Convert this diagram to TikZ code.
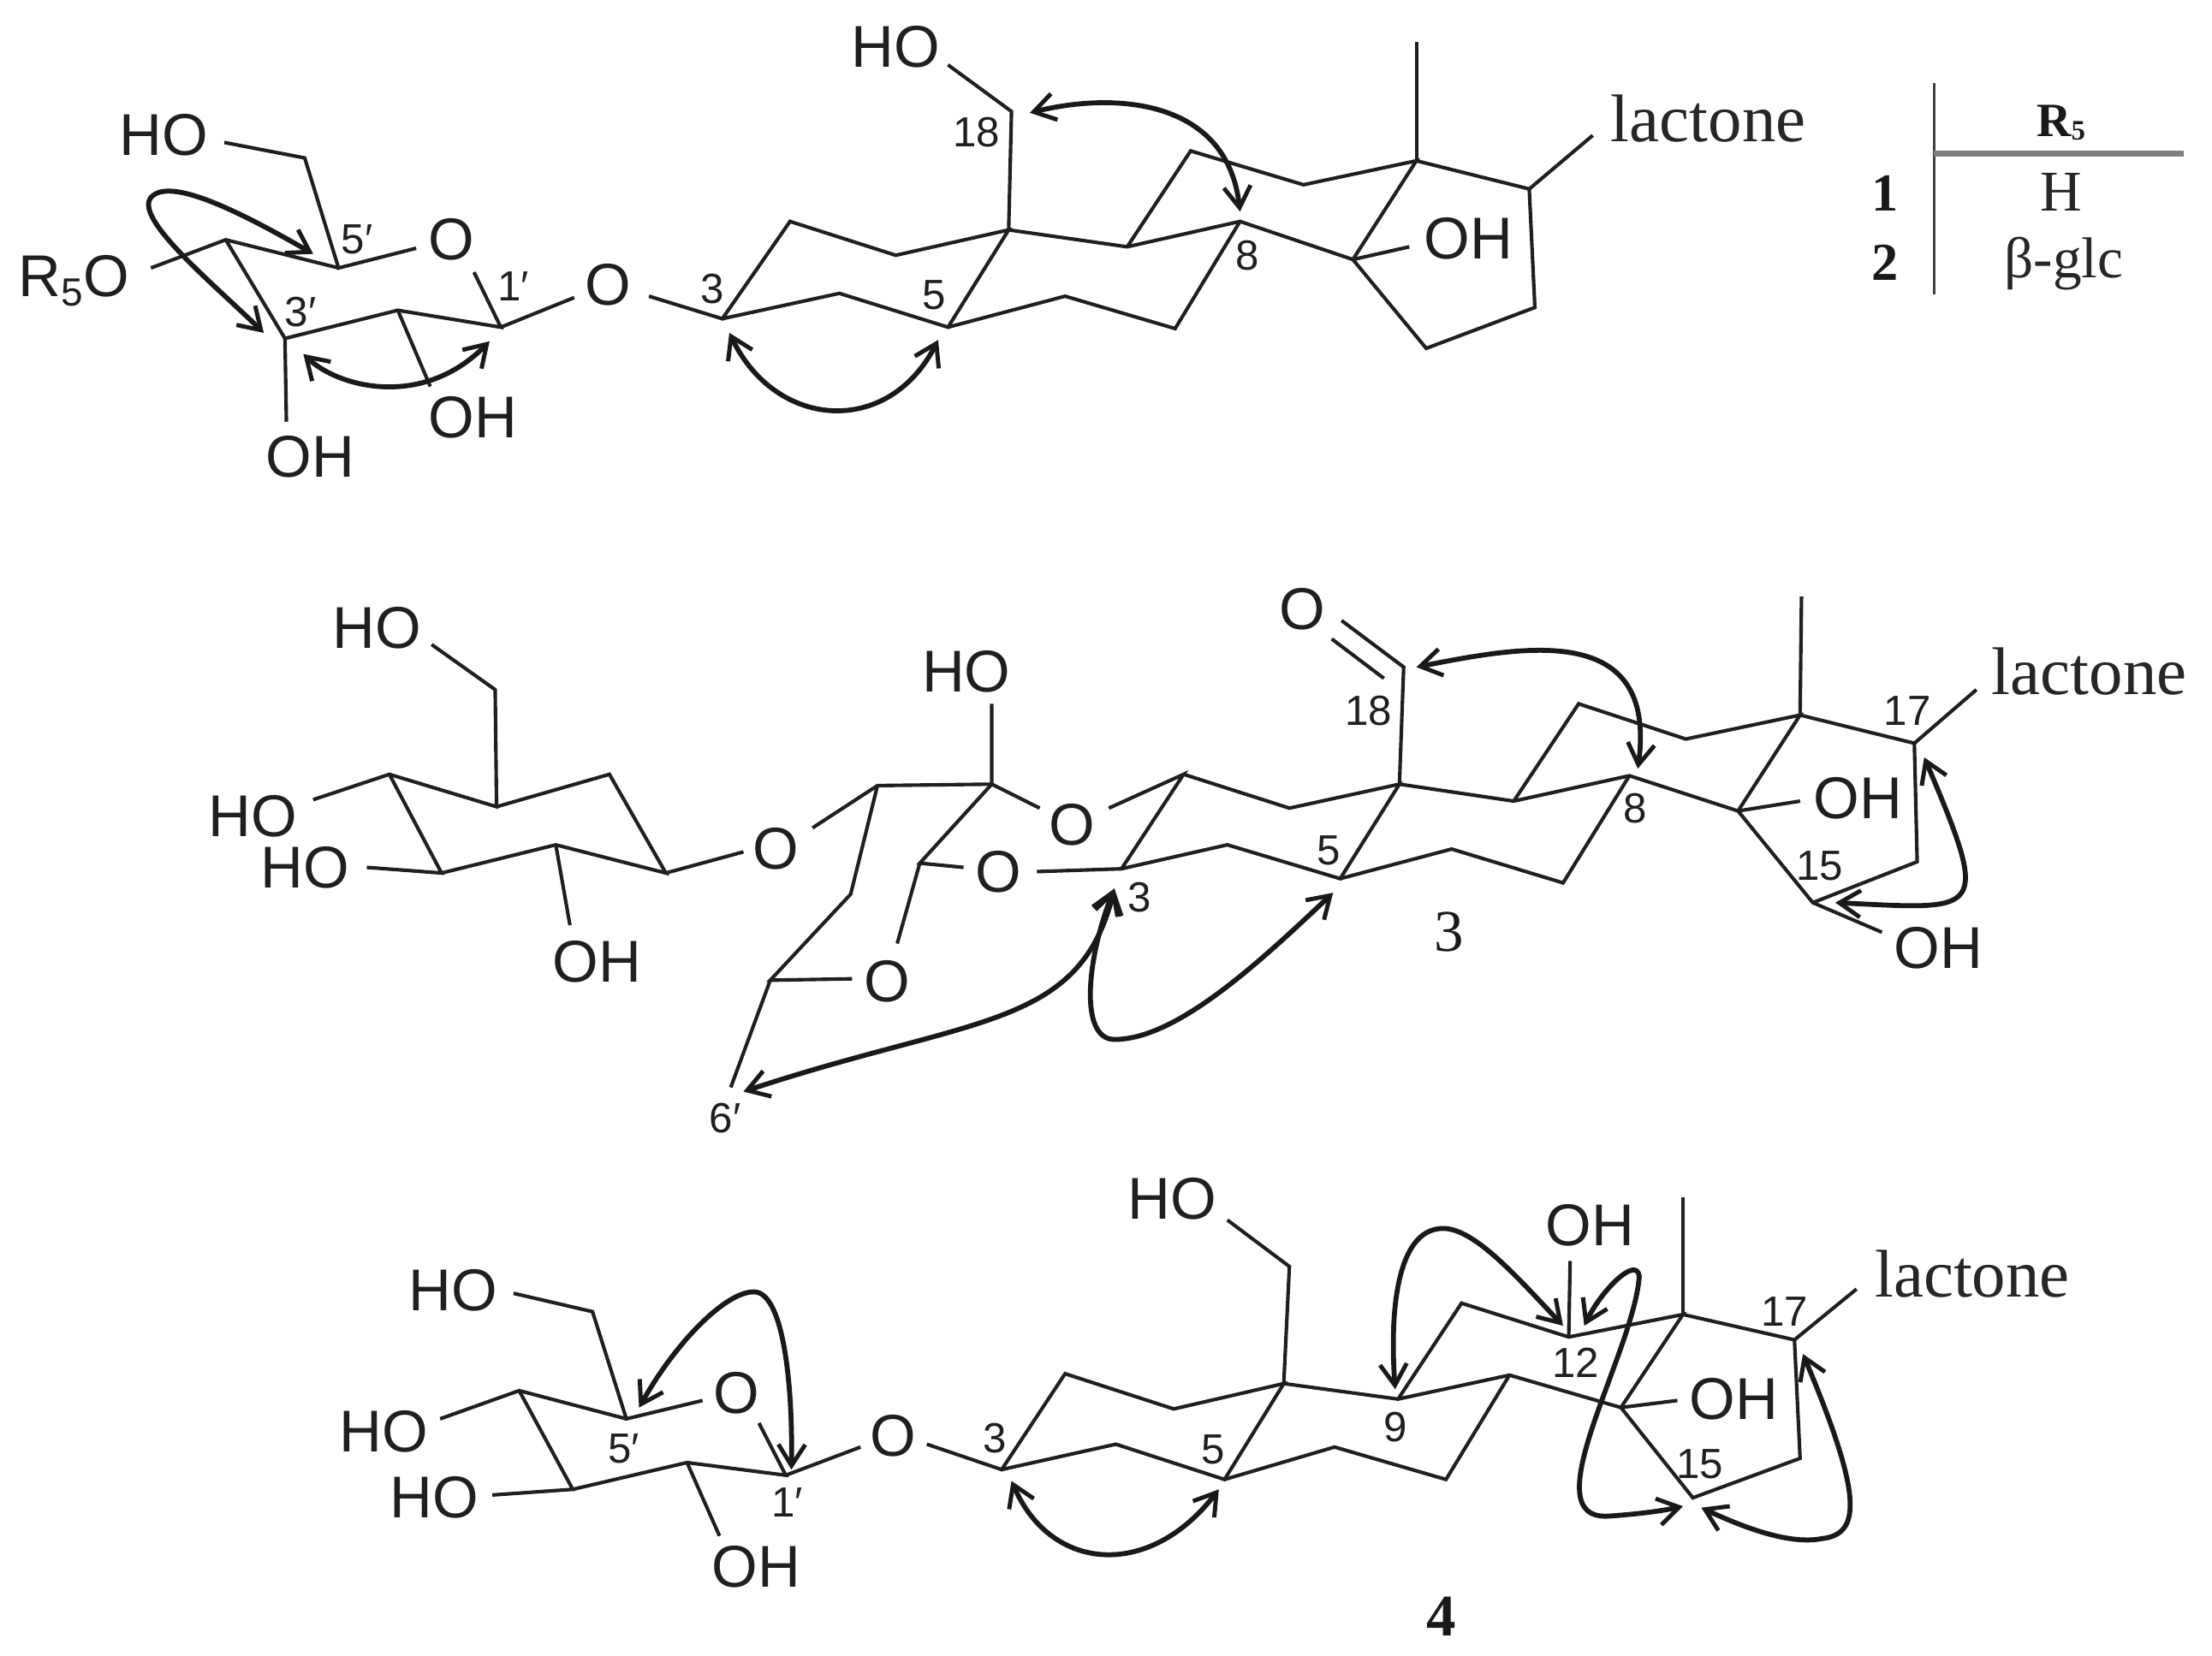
\documentclass[tikz,border=0pt]{standalone}
\usepackage{fontspec}
\setmainfont{Liberation Serif}
\newfontfamily\lsans{Liberation Sans}
\usetikzlibrary{arrows.meta}
\tikzset{
  bond/.style={draw=black!88,line width=2.5bp,line join=miter},
  thinrule/.style={draw=black!75,line width=1.8bp},
  grayrule/.style={draw=black!50,line width=4bp},
  hmbc/.style={draw=black!90,line width=3.5bp,{Straight Barb[length=15bp,width=19bp,line width=3bp]}-{Straight Barb[length=15bp,width=19bp,line width=3bp]}},
  atomlab/.style={inner sep=0pt,text=black!88,font=\lsans\fontsize{42}{44}\selectfont},
  numlab/.style={inner sep=0pt,text=black!88,font=\lsans\fontsize{30}{32}\selectfont},
  lact/.style={inner sep=0pt,text=black!85,font=\fontsize{48}{50}\selectfont},
  tabcell/.style={inner sep=0pt,text=black!85,font=\fontsize{41}{43}\selectfont},
  tabnum/.style={inner sep=0pt,text=black!90,font=\bfseries\fontsize{38}{40}\selectfont},
  cmpd/.style={inner sep=0pt,text=black!90,font=\fontsize{42}{44}\selectfont},
  cmpdb/.style={inner sep=0pt,text=black!90,font=\bfseries\fontsize{42}{44}\selectfont}
}
\begin{document}
\begin{tikzpicture}[x=1bp,y=-1bp]
\fill[white] (0,0) rectangle (1568,1173.6);
\useasboundingbox (0,0) rectangle (1568,1173.6);
% ---------- structure 1 / 2 ----------
\foreach \n/\x/\y in {
 aHOe/159/101,aCH/216/112,a5p/240/190,aOe/295/176,a4p/160/170,aRe/107/190,a3p/202/240,a2p/282/220,a1p/355/232,
 aOr/336/193,aOge/407/211,aOgs/460/210,a3/512/226,aOHb/305/274,aOHc/203/299,a2/560/157,a1/635/181,a10/715/163,
 a4/595/208,a5/672/232,a6/755/210,a7/833/233,a9/799/175,a11/844/107,a12/924/131,a13/1004/114,a8/879/157,a14/959/184,
 aMe/1004/30,a17/1084/134,aLac/1129/96,a16/1088/218,a15/1011/247,aOHd/999/175,a18/717/79,aHOt/672/46,
 aT1/1371/59,aT2/1371/209,aT3/1371/109,aT4/1548/109}
 \coordinate (\n) at (\x,\y);
\draw[bond] (aHOe)--(aCH)--(a5p)--(aOe);
\draw[bond] (aRe)--(a4p)--(a5p);
\draw[bond] (a4p)--(a3p)--(a2p)--(a1p)--(aOr);
\draw[bond] (a1p)--(aOge);
\draw[bond] (aOgs)--(a3)--(a2)--(a1)--(a10)--(a5)--(a4)--(a3);
\draw[bond] (a2p)--(aOHb);
\draw[bond] (a3p)--(aOHc);
\draw[bond] (a5)--(a6)--(a7)--(a8);
\draw[bond] (a10)--(a9)--(a8)--(a14)--(a13)--(a12)--(a11)--(a9);
\draw[bond] (a13)--(aMe);
\draw[bond] (a13)--(a17)--(aLac);
\draw[bond] (a17)--(a16)--(a15)--(a14)--(aOHd);
\draw[bond] (a10)--(a18)--(aHOt);
\node[atomlab] (tHO1) at (116,96) {HO};
\node[atomlab] (tO1) at (320,170) {O};
\node[atomlab,anchor=west] (tR) at (13,199) {R\raisebox{-7bp}{\fontsize{28}{30}\selectfont 5}O};
\node[atomlab] (tO2) at (431,202) {O};
\node[atomlab] (tOH1) at (335,296) {OH};
\node[atomlab] (tOH2) at (220,324) {OH};
\node[atomlab] (tHO2) at (635,33) {HO};
\node[atomlab] (tOH3) at (1041,169) {OH};
\node[lact] (tL1) at (1211,84) {lactone};
\node[numlab] (n18a) at (692,94) {18};
\node[numlab] (n3a) at (505,205) {3};
\node[numlab] (n5a) at (662,209) {5};
\node[numlab] (n3pa) at (213,221) {3′};
\node[numlab] (n5pa) at (253,170) {5′};
\node[numlab] (n1pa) at (364,203) {1′};
\node[numlab] (n8a) at (884,181) {8};
\draw[thinrule] (aT1)--(aT2);
\draw[grayrule] (aT3)--(aT4);
\node[inner sep=0pt,text=black!90,font=\bfseries\fontsize{34}{36}\selectfont] (tRt) at (1461,87) {R\raisebox{-2bp}{\fontsize{20}{22}\selectfont 5}};
\node[tabnum] (t1) at (1336,137) {1};
\node[tabcell] (tH) at (1461,136) {H};
\node[tabnum] (t2) at (1336,186) {2};
\node[tabcell] (tG) at (1463,187) {β-glc};
\foreach \n/\x/\y in {ah1/222/180,ah2/187/236,ah3/215/251,ah4/347/242,ah5/730/80,ah6/879/150,ah7/517/236,ah8/665/241}
 \coordinate (\n) at (\x,\y);
\draw[hmbc] (ah1) .. controls (170,150) and (120,125) .. (107,140) .. controls (95,155) and (150,200) .. (ah2);
\draw[hmbc] (ah3) .. controls (240,275) and (300,290) .. (ah4);
\draw[hmbc] (ah5) .. controls (790,65) and (870,70) .. (ah6);
\draw[hmbc] (ah7) .. controls (550,305) and (630,310) .. (ah8);
% ---------- structure 3 ----------
\foreach \n/\x/\y in {
 bHOe/306/457,bCH/351/489,bC5/352/572,bC4/276/549,bHO2e/222/567,bC3/313/619,bHO3e/260/615,bC2/394/599,bOHe/404/656,
 bC1/432/549,bC0/472/619,bOa/527/604,bOb/576/587,bD1/622/557,bD2/703/556,bD3/603/634,bD4/546/695,bOc/604/694,b6p/518/771,
 bHO4e/703/499,bD5/652/612,bOd/683/615,bOe/636/669,bOf/737/573,bOg/786/573,bA2/839/549,b3/795/616,bOh/735/618,
 bA4/870/599,b5/950/623,bA1/914/573,b10/992/556,b9/1073/568,b11/1119/499,b12/1195/524,b13/1276/507,b8/1155/550,b14/1232/575,
 b7/1108/626,b6/1029/602,bMe/1277/423,b17/1357/527,bLac/1401/489,b16/1359/611,b15/1285/640,bOHf/1334/661,bOHg/1276/568,
 bCO/995/473,bOu/951/440,bOv/944/453,bCOb/981/481}
 \coordinate (\n) at (\x,\y);
\draw[bond] (bHOe)--(bCH)--(bC5)--(bC4)--(bHO2e);
\draw[bond] (bC4)--(bC3)--(bHO3e);
\draw[bond] (bC3)--(bC2)--(bC0)--(bC1)--(bC5);
\draw[bond] (bC2)--(bOHe);
\draw[bond] (bC0)--(bOa);
\draw[bond] (bOb)--(bD1)--(bD2)--(bHO4e);
\draw[bond] (bD1)--(bD3)--(bD4)--(bOc);
\draw[bond] (bD4)--(b6p);
\draw[bond] (bD2)--(bD5)--(bOd);
\draw[bond] (bD5)--(bOe);
\draw[bond] (bD2)--(bOf);
\draw[bond] (bOg)--(bA2)--(b3)--(bOh);
\draw[bond] (b3)--(bA4)--(b5)--(b10)--(bA1)--(bA2);
\draw[bond] (b10)--(b9)--(b8)--(b14)--(b13)--(b12)--(b11)--(b9);
\draw[bond] (b8)--(b7)--(b6)--(b5);
\draw[bond] (b13)--(bMe);
\draw[bond] (b13)--(b17)--(bLac);
\draw[bond] (b17)--(b16)--(b15)--(b14)--(bOHg);
\draw[bond] (b15)--(bOHf);
\draw[bond] (bOu)--(bCO)--(b10);
\draw[bond] (bOv)--(bCOb);
\node[atomlab] (sHO1) at (267,445) {HO};
\node[atomlab] (sHO2) at (179,579) {HO};
\node[atomlab] (sHO3) at (216,615) {HO};
\node[atomlab] (sOH1) at (423,682) {OH};
\node[atomlab] (sO1) at (550,602) {O};
\node[atomlab] (sO2) at (629,696) {O};
\node[atomlab] (sHO4) at (685,476) {HO};
\node[atomlab] (sO3) at (708,618) {O};
\node[atomlab] (sO4) at (760,585) {O};
\node[atomlab] (sO5) at (923,432) {O};
\node[atomlab] (sOH2) at (1317,566) {OH};
\node[atomlab] (sOH3) at (1374,672) {OH};
\node[lact] (sL) at (1481,476) {lactone};
\node[numlab] (n18b) at (970,504) {18};
\node[numlab] (n5b) at (942,603) {5};
\node[numlab] (n8b) at (1159,573) {8};
\node[numlab] (n15b) at (1290,614) {15};
\node[numlab] (n17b) at (1352,504) {17};
\node[numlab] (n3b) at (808,636) {3};
\node[numlab] (n6b) at (514,793) {6′};
\node[cmpd] (c3) at (1027,661) {3};
\foreach \n/\x/\y in {bh1/1004/473,bh2/1161/545,bh3/1364/537,bh4/1301/640,bh5/945/633,bh6/790/630,bh7/527/774}
 \coordinate (\n) at (\x,\y);
\draw[hmbc] (bh1) .. controls (1080,458) and (1175,440) .. (bh2);
\draw[hmbc] (bh3) .. controls (1412,650) and (1405,645) .. (bh4);
\draw[hmbc] (bh5) .. controls (895,680) and (835,737) .. (790,737) .. controls (765,737) and (770,680) .. (bh6);
\draw[hmbc] (bh6) .. controls (765,730) and (690,720) .. (bh7);
% ---------- structure 4 ----------
\foreach \n/\x/\y in {
 cHOe/364/917,cCH/420/930,c5p/444/1006,cOe/498/993,c4p/368/986,cHO2e/312/1006,c3p/406/1056,cHO3e/349/1060,c2p/487/1037,c1p/557/1046,
 cOr/538/1009,cOHe/510/1089,cOa/610/1026,cOb/657/1024,c3/710/1042,c2/755/974,c1/832/999,c10/910/981,c4/791/1024,c5/868/1049,
 c9/991/992,c18/914/898,cHOt/870/865,c6/946/1026,c7/1025/1049,c8/1070/975,c11/1036/924,c12/1112/948,c13/1193/932,c14/1149/998,
 cMe/1193/849,c17/1272/950,cLac/1316/914,c16/1276/1034,c15/1200/1062,cOHa/1189/993,cOHb/1113/894}
 \coordinate (\n) at (\x,\y);
\draw[bond] (cHOe)--(cCH)--(c5p)--(cOe);
\draw[bond] (c5p)--(c4p)--(cHO2e);
\draw[bond] (c4p)--(c3p)--(cHO3e);
\draw[bond] (c3p)--(c2p)--(c1p)--(cOr);
\draw[bond] (c2p)--(cOHe);
\draw[bond] (c1p)--(cOa);
\draw[bond] (cOb)--(c3)--(c2)--(c1)--(c10)--(c5)--(c4)--(c3);
\draw[bond] (c10)--(c18)--(cHOt);
\draw[bond] (c10)--(c9)--(c8)--(c14)--(c13)--(c12)--(c11)--(c9);
\draw[bond] (c5)--(c6)--(c7)--(c8);
\draw[bond] (c13)--(cMe);
\draw[bond] (c13)--(c17)--(cLac);
\draw[bond] (c17)--(c16)--(c15)--(c14)--(cOHa);
\draw[bond] (c12)--(cOHb);
\node[atomlab] (uHO1) at (321,915) {HO};
\node[atomlab] (uO1) at (522,988) {O};
\node[atomlab] (uHO2) at (272,1015) {HO};
\node[atomlab] (uHO3) at (308,1062) {HO};
\node[atomlab] (uOH1) at (536,1111) {OH};
\node[atomlab] (uO2) at (633,1018) {O};
\node[atomlab] (uHO4) at (831,850) {HO};
\node[atomlab] (uOH2) at (1127,869) {OH};
\node[atomlab] (uOH3) at (1229,992) {OH};
\node[lact] (uL) at (1398,903) {lactone};
\node[numlab] (n5pc) at (442,1027) {5′};
\node[numlab] (n1pc) at (558,1065) {1′};
\node[numlab] (n3c) at (705,1020) {3};
\node[numlab] (n5c) at (860,1028) {5};
\node[numlab] (n9c) at (989,1012) {9};
\node[numlab] (n12c) at (1117,966) {12};
\node[numlab] (n15c) at (1205,1038) {15};
\node[numlab] (n17c) at (1265,930) {17};
\node[cmpdb] (c4l) at (1022,1146) {4};
\foreach \n/\x/\y in {ch1/453/998,ch2/561/1042,ch3/717/1050,ch4/864/1056,ch5/1108/940,ch6/989/985,ch7/1123/940,ch8/1193/1068,ch9/1206/1069,ch10/1278/960}
 \coordinate (\n) at (\x,\y);
\draw[hmbc] (ch1) .. controls (480,950) and (515,916) .. (534,916) .. controls (555,915) and (562,980) .. (ch2);
\draw[hmbc] (ch3) .. controls (745,1115) and (815,1120) .. (ch4);
\draw[hmbc] (ch5) .. controls (1075,905) and (1045,871) .. (1023,871) .. controls (990,871) and (985,930) .. (ch6);
\draw[hmbc] (ch7) .. controls (1135,915) and (1160,890) .. (1162,905) .. controls (1158,960) and (1085,1078) .. (1140,1075) .. controls (1155,1074) and (1175,1072) .. (ch8);
\draw[hmbc] (ch9) .. controls (1240,1085) and (1270,1095) .. (1291,1091) .. controls (1320,1088) and (1320,1060) .. (ch10);
\end{tikzpicture}
\end{document}
